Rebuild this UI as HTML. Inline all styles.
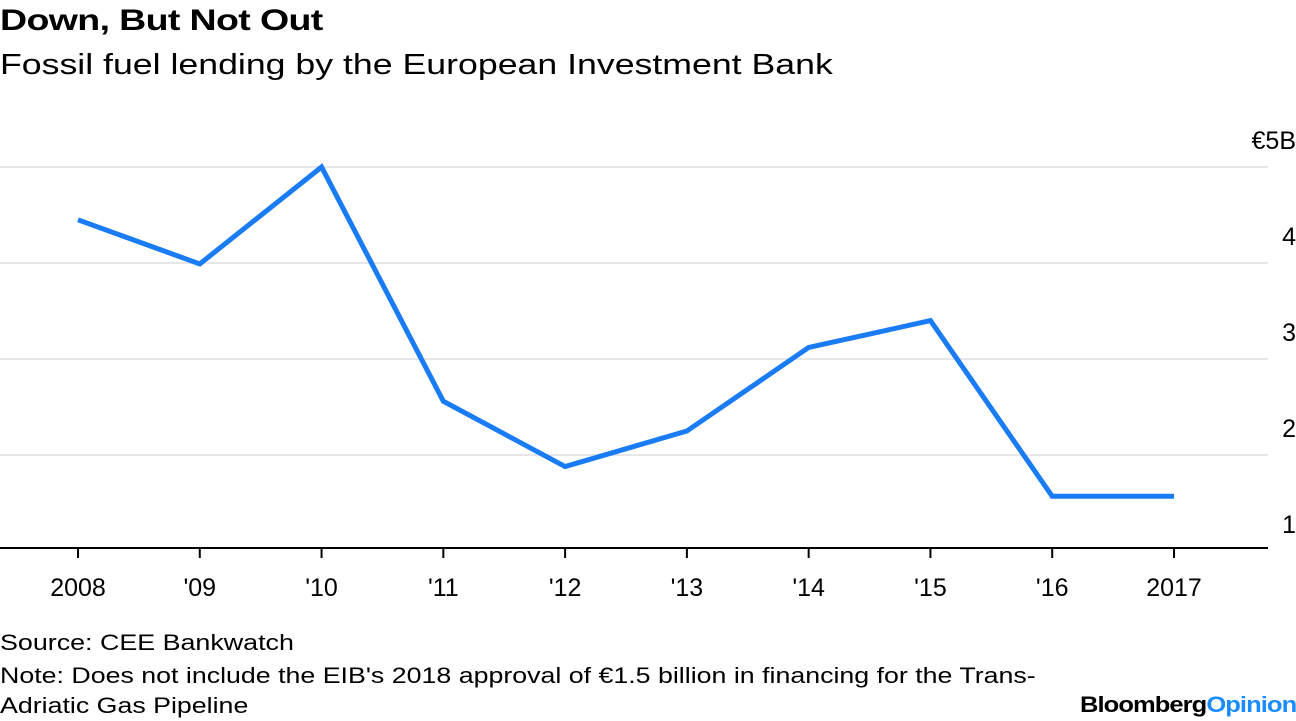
<!DOCTYPE html>
<html><head><meta charset="utf-8"><style>
body{margin:0;background:#fff;width:1296px;height:718px;overflow:hidden;font-family:"Liberation Sans",sans-serif;color:#000}
.t{position:absolute;white-space:nowrap;transform-origin:0 0}
</style></head><body>
<div class="t" style="left:0;top:4px;font-size:30px;font-weight:bold;letter-spacing:-0.5px;transform:scaleX(1.25)">Down, But Not Out</div>
<div class="t" style="left:0;top:49px;font-size:29px;transform:scaleX(1.23)">Fossil fuel lending by the European Investment Bank</div>
<svg id="chart" width="1296" height="718" style="position:absolute;left:0;top:0"></svg>
<div class="t" style="left:0;top:630px;font-size:22px;transform:scaleX(1.22)">Source: CEE Bankwatch</div>
<div class="t" style="left:0;top:661px;font-size:22px;line-height:30px;transform:scaleX(1.216)">Note: Does not include the EIB's 2018 approval of €1.5 billion in financing for the Trans-<br>Adriatic Gas Pipeline</div>
<div class="t" style="left:1080px;top:692px;font-size:22px;font-weight:bold;letter-spacing:-0.8px;transform:scaleX(1.16)">Bloomberg<span style="color:#1a8cff">Opinion</span></div>
<script>
const categories=["2008","'09","'10","'11","'12","'13","'14","'15","'16","2017"];
const values=[4.45,3.99,5.0,2.56,1.88,2.25,3.12,3.4,1.57,1.57];
const yTicks=[1,2,3,4,5];
const yTickLabels=["1","2","3","4","€5B"];
const NS="http://www.w3.org/2000/svg";
const svg=document.getElementById('chart');
const x=i=>78+i*(1174-78)/(categories.length-1);
const y=v=>167+(5-v)*96;
function mk(t,a){const e=document.createElementNS(NS,t);for(const k in a)e.setAttribute(k,a[k]);svg.appendChild(e);return e;}
yTicks.forEach((v,i)=>{
  if(v>1){const g=mk('line',{x1:0,x2:1268,y1:y(v),y2:y(v),stroke:'#e6e6e6','stroke-width':2});
  
  }
  const t=mk('text',{x:1296,y:y(v)-18,'text-anchor':'end','font-size':25,'font-family':'Liberation Sans, sans-serif'});
  t.textContent=yTickLabels[i];
  
  
});
const ax=mk('line',{x1:0,x2:1268,y1:548,y2:548,stroke:'#000','stroke-width':2});


categories.forEach((c,i)=>{
  const tk=mk('line',{x1:x(i),x2:x(i),y1:548,y2:558,stroke:'#000','stroke-width':2});
  
  
  const t=mk('text',{x:x(i),y:596,'text-anchor':'middle','font-size':25,'font-family':'Liberation Sans, sans-serif'});
  t.textContent=c;
  
  
});
const p=mk('polyline',{points:values.map((v,i)=>x(i)+','+y(v)).join(' '),fill:'none',stroke:'#1a7cf5','stroke-width':5,'stroke-linejoin':'miter'});


</script>
</body></html>
